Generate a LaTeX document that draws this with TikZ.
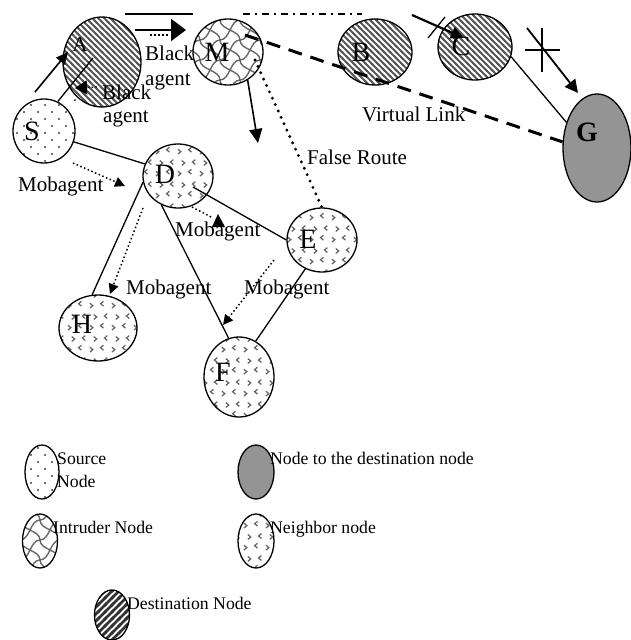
\documentclass[tikz,border=0pt]{standalone}
\usepackage{fontspec}
\setmainfont{Liberation Serif}
\usetikzlibrary{shapes.geometric,arrows.meta,patterns,calc}

\pgfdeclarepatternformonly{sparsedots}{\pgfqpoint{-1pt}{-1pt}}{\pgfqpoint{15pt}{15pt}}{\pgfqpoint{14pt}{14pt}}{%
 \pgfpathcircle{\pgfqpoint{3pt}{3pt}}{1.1pt}%
 \pgfpathcircle{\pgfqpoint{10pt}{10pt}}{1.1pt}%
 \pgfusepath{fill}}
\pgfdeclarepatternformonly{bslines}{\pgfqpoint{-2pt}{-2pt}}{\pgfqpoint{8pt}{8pt}}{\pgfqpoint{6pt}{6pt}}{%
 \pgfsetlinewidth{1.8pt}%
 \pgfpathmoveto{\pgfqpoint{-2pt}{8pt}}\pgfpathlineto{\pgfqpoint{8pt}{-2pt}}%
 \pgfusepath{stroke}}
\pgfdeclarepatternformonly{fslines}{\pgfqpoint{-2pt}{-2pt}}{\pgfqpoint{9pt}{9pt}}{\pgfqpoint{7pt}{7pt}}{%
 \pgfsetlinewidth{2.6pt}%
 \pgfpathmoveto{\pgfqpoint{-2pt}{-2pt}}\pgfpathlineto{\pgfqpoint{9pt}{9pt}}%
 \pgfusepath{stroke}}
\pgfdeclarepatternformonly{wavy}{\pgfqpoint{-1pt}{-1pt}}{\pgfqpoint{21pt}{21pt}}{\pgfqpoint{20pt}{20pt}}{%
 \pgfsetlinewidth{1.4pt}%
 \pgfpathmoveto{\pgfqpoint{0pt}{0pt}}\pgfpathcurveto{\pgfqpoint{10pt}{0pt}}{\pgfqpoint{10pt}{20pt}}{\pgfqpoint{20pt}{20pt}}%
 \pgfpathmoveto{\pgfqpoint{0pt}{20pt}}\pgfpathcurveto{\pgfqpoint{0pt}{10pt}}{\pgfqpoint{20pt}{10pt}}{\pgfqpoint{20pt}{0pt}}%
 \pgfusepath{stroke}}
\pgfdeclarepatternformonly{chevrons}{\pgfqpoint{0pt}{0pt}}{\pgfqpoint{22pt}{22pt}}{\pgfqpoint{22pt}{22pt}}{%
 \pgfsetlinewidth{1.3pt}%
 \pgfpathmoveto{\pgfqpoint{2pt}{2pt}}\pgfpathlineto{\pgfqpoint{5pt}{4.5pt}}\pgfpathlineto{\pgfqpoint{2pt}{7pt}}%
 \pgfpathmoveto{\pgfqpoint{16pt}{4pt}}\pgfpathlineto{\pgfqpoint{13pt}{6.5pt}}\pgfpathlineto{\pgfqpoint{16pt}{9pt}}%
 \pgfpathmoveto{\pgfqpoint{6pt}{13pt}}\pgfpathlineto{\pgfqpoint{9pt}{15.5pt}}\pgfpathlineto{\pgfqpoint{6pt}{18pt}}%
 \pgfpathmoveto{\pgfqpoint{20pt}{14pt}}\pgfpathlineto{\pgfqpoint{17pt}{16.5pt}}\pgfpathlineto{\pgfqpoint{20pt}{19pt}}%
 \pgfusepath{stroke}}

\tikzset{
 nd/.style={ellipse, draw, line width=1.3pt, inner sep=0pt},
 srcnode/.style={nd, pattern=sparsedots, pattern color=black!75},
 dstnode/.style={nd, pattern=bslines, pattern color=black!65},
 intnode/.style={nd, pattern=wavy, pattern color=black!60},
 nbnode/.style={nd, pattern=chevrons, pattern color=black!60},
 gnode/.style={nd, fill=black!42},
 lbl/.style={font=\fontsize{28}{30}\selectfont, inner sep=0pt},
 txt/.style={font=\fontsize{21}{24}\selectfont, inner sep=0pt, anchor=base west},
 legtxt/.style={font=\fontsize{17.7}{20}\selectfont, inner sep=0pt, anchor=base west},
 ln/.style={line width=1.3pt},
 arr/.style={line width=1.6pt, -{Triangle[length=12pt,width=11pt]}},
 mob/.style={line width=1.5pt, dash pattern=on 1.5pt off 2.5pt, -{Triangle[length=10pt,width=10pt,sep=0pt]}},
}

\begin{document}
\begin{tikzpicture}[x=1pt,y=-1pt]
\useasboundingbox (0,0) rectangle (631,640);

% nodes
\node[dstnode, minimum width=78pt, minimum height=90pt] (A) at (102,62) {};
\node[intnode, minimum width=70pt, minimum height=66pt] (M) at (228,52) {};
\node[dstnode, minimum width=74pt, minimum height=66pt] (B) at (375,52) {};
\node[dstnode, minimum width=74pt, minimum height=66pt] (C) at (475,47) {};
\node[gnode, minimum width=68pt, minimum height=108pt] (G) at (597,148) {};
\node[srcnode, minimum width=62pt, minimum height=64pt] (S) at (44,131) {};
\node[nbnode, minimum width=70pt, minimum height=64pt] (D) at (178,176) {};
\node[nbnode, minimum width=70pt, minimum height=64pt] (E) at (322,240) {};
\node[nbnode, minimum width=78pt, minimum height=66pt] (H) at (98,328) {};
\node[nbnode, minimum width=70pt, minimum height=80pt] (F) at (239,377) {};

% node letters
\node[lbl, font=\fontsize{21}{24}\selectfont] (Al) at (80,45) {A};
\node[lbl] (Ml) at (217,52) {M};
\node[lbl] (Bl) at (361,52) {B};
\node[lbl] (Cl) at (461,46) {C};
\node[lbl, font=\fontsize{28}{30}\selectfont\bfseries] (Gl) at (587,132) {G};
\node[lbl] (Sl) at (32,131) {S};
\node[lbl] (Dl) at (165,174) {D};
\node[lbl] (El) at (308,239) {E};
\node[lbl] (Hl) at (82,324) {H};
\node[lbl] (Fl) at (223,372) {F};

% solid links
\draw[ln] (S.-20) -- (D.160);
\draw[ln] ([shift={(15,11)}]D.center) -- (E.west);
\draw[ln] (D.190) -- (H.100);
\draw[ln] (D.240) -- (F.105);
\draw[ln] (E.240) -- (F.65);
\draw[ln] (C.-15) -- (G.140);
\draw[ln] (S.65) -- ([shift={(-9,-4)}]A.center);

% top lines
\coordinate (t1) at (125,14); \coordinate (t2) at (193,14);
\draw[line width=1.3pt] (t1) -- (t2);
\coordinate (t3) at (243,14); \coordinate (t4) at (362,14);
\draw[line width=1.2pt, dash pattern=on 7pt off 5pt on 2pt off 5pt] (t3) -- (t4);

% S -> A
\coordinate (sa1) at (35,92); \coordinate (sa2) at (68,52);
\draw[arr] (sa1) -- (sa2);
% black agent arrow near A
\coordinate (ba1) at (97,87); \coordinate (ba2) at (75,88);
\draw[line width=1.2pt, dash pattern=on 1.5pt off 2.5pt, -{Triangle[length=12pt,width=14pt]}] (ba1) -- (ba2);
\fill (75,100) circle (1pt);
% A -> M arrows
\coordinate (am1) at (135,30); \coordinate (am2) at (186,30);
\draw[line width=2.4pt, -{Triangle[length=15pt,width=22pt]}] (am1) -- (am2);
\coordinate (am3) at (150,35); \coordinate (am4) at (170,35);
\draw[line width=1.4pt, dash pattern=on 1.5pt off 2.5pt] (am3) -- (am4);

% into C with cross
\coordinate (c1) at (412,15); \coordinate (c2) at (464,38);
\draw[line width=2.2pt, -{Triangle[length=13pt,width=12pt]}] (c1) -- (c2);
\coordinate (x1) at (428,38); \coordinate (x2) at (445,17);
\draw[ln] (x1) -- (x2);
% C -> G with cross
\coordinate (g1) at (527,28); \coordinate (g2) at (578,93);
\draw[line width=1.8pt, -{Triangle[length=13pt,width=13pt]}] (g1) -- (g2);
\coordinate (y1) at (542,28); \coordinate (y2) at (542,72);
\coordinate (y3) at (525,50); \coordinate (y4) at (560,50);
\draw[ln] (y1) -- (y2);
\draw[ln] (y3) -- (y4);

% M down arrow
\coordinate (md) at (258,143);
\draw[arr, -{Triangle[length=14pt,width=13pt]}] (M.-55) -- (md);

% false route
\draw[line width=3.2pt, line cap=round, dash pattern=on 0pt off 7pt] ([shift={(27,8)}]M.center) -- (E.north);

% virtual link
\draw[line width=3pt, dash pattern=on 14pt off 9pt] ([shift={(17,-17)}]M.center) -- (G.170);

% mobagent arrows
\coordinate (m1a) at (73,163); \coordinate (m1b) at (125,186);
\draw[mob] (m1a) -- (m1b);
\coordinate (m2b) at (213,218);
\draw[line width=1.5pt, dash pattern=on 1.5pt off 2.5pt] ([shift={(14,31)}]D.center) -- (m2b);
\fill (218,214) -- (212,227) -- (225,227) -- cycle;
\coordinate (m3b) at (110,294);
\draw[mob] ([shift={(-35,32)}]D.center) -- (m3b);
\coordinate (m4a) at (274,260); \coordinate (m4b) at (223,325);
\draw[mob] (m4a) -- (m4b);

% labels
\node[txt] (bk1) at (145,60) {Black};
\node[txt] (ag1) at (145,85) {agent};
\node[txt] (bk2) at (102,99) {Black};
\node[txt] (ag2) at (103,122) {agent};
\node[txt] (fr) at (307,164) {False Route};
\node[txt] (vl) at (362,121) {Virtual Link};
\node[txt] (mb1) at (18,191) {Mobagent};
\node[txt] (mb2) at (175,236) {Mobagent};
\node[txt] (mb3) at (126,294) {Mobagent};
\node[txt] (mb4) at (244,294) {Mobagent};

% legend
\node[srcnode, minimum width=34pt, minimum height=54pt] (L1) at (42,472) {};
\node[legtxt] (L1a) at (57,464) {Source};
\node[legtxt] (L1b) at (57,487) {Node};
\node[gnode, minimum width=36pt, minimum height=54pt] (L2) at (256,472) {};
\node[legtxt] (L2a) at (270,464) {Node to the destination node};
\node[intnode, minimum width=35pt, minimum height=54pt] (L3) at (40,541) {};
\node[legtxt] (L3a) at (53,533) {Intruder Node};
\node[nbnode, minimum width=36pt, minimum height=54pt] (L4) at (256,541) {};
\node[legtxt] (L4a) at (270,533) {Neighbor node};
\node[nd, pattern=fslines, pattern color=black!80, minimum width=35pt, minimum height=50pt] (L5) at (112,615) {};
\node[legtxt] (L5a) at (127,609) {Destination Node};
\end{tikzpicture}
\end{document}
